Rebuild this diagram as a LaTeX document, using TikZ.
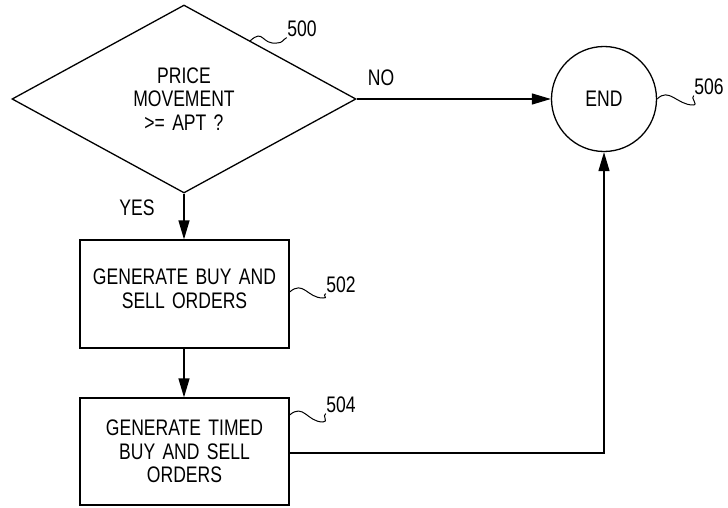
\documentclass[tikz,border=0pt]{standalone}
\usepackage{fontspec}
\setmainfont[FakeStretch=0.78,WordSpace=1.5]{Liberation Sans}
\usetikzlibrary{shapes.geometric,arrows.meta}
\begin{document}
\begin{tikzpicture}[x=1pt,y=-1pt,
  line width=1.3pt,
  every node/.style={font=\fontsize{22.5}{23.5}\selectfont, inner sep=0pt},
  flow/.style={-{Triangle[length=19pt,width=11pt]}},
  stepbox/.style={draw, rectangle, minimum width=209pt, align=center},
  decision/.style={draw, diamond, minimum width=344pt, minimum height=188pt, aspect=1.83, align=center},
  terminal/.style={draw, circle, minimum size=105pt},
  lead/.style={line width=1pt}]
  \useasboundingbox (0,0) rectangle (728,508);

  % process nodes
  \node[decision] (dec) at (184,99) {PRICE\\MOVEMENT\\>= APT ?};
  \node[terminal] (end) at (604,99) {END};
  \node[stepbox, minimum height=108pt] (b1) at (184.5,294) {};
  \node[align=center] (b1text) at (184.5,289) {GENERATE BUY AND\\SELL ORDERS};
  \node[stepbox, minimum height=107pt] (b2) at (184.5,451.5) {GENERATE TIMED\\BUY AND SELL\\ORDERS};

  % branch labels
  \node (no) at (381,78) {NO};
  \node (yes) at (137,208) {YES};

  % connectors
  \draw[flow] (dec.east) -- (end.west |- dec.east);
  \draw[flow] (dec.south) -- (b1.north -| dec.south);
  \draw[flow] (b1.south -| dec.south) -- (b2.north -| dec.south);
  \draw[flow] (b2.east |- 0,453) -| (end.south);

  % reference numerals with lead lines
  \node (r500) at (302,29) {500};
  \node (r502) at (341,285) {502};
  \node (r504) at (341,405) {504};
  \node (r506) at (709,87) {506};

  \coordinate (l500) at (250,41);
  \coordinate (l502) at (b1.east |- 0,292);
  \coordinate (l504) at (b2.east |- 0,415);
  \coordinate (l506) at (end.east);

  \draw[lead] (l500) .. controls +(14,-13) and +(-16,2) .. (277,43) .. controls +(6,0) and +(-4,2) .. (r500.south west);
  \draw[lead] (l502) .. controls +(14,-12) and +(-16,0) .. (323,298) .. controls +(6,0) and +(-4,2) .. (r502.south west);
  \draw[lead] (l504) .. controls +(14,-12) and +(-16,0) .. (323,422) .. controls +(6,0) and +(-4,2) .. (r504.south west);
  \draw[lead] (l506) .. controls +(12,-12) and +(-16,0) .. (693,105) .. controls +(6,0) and +(-4,2) .. (r506.south west);
\end{tikzpicture}
\end{document}
